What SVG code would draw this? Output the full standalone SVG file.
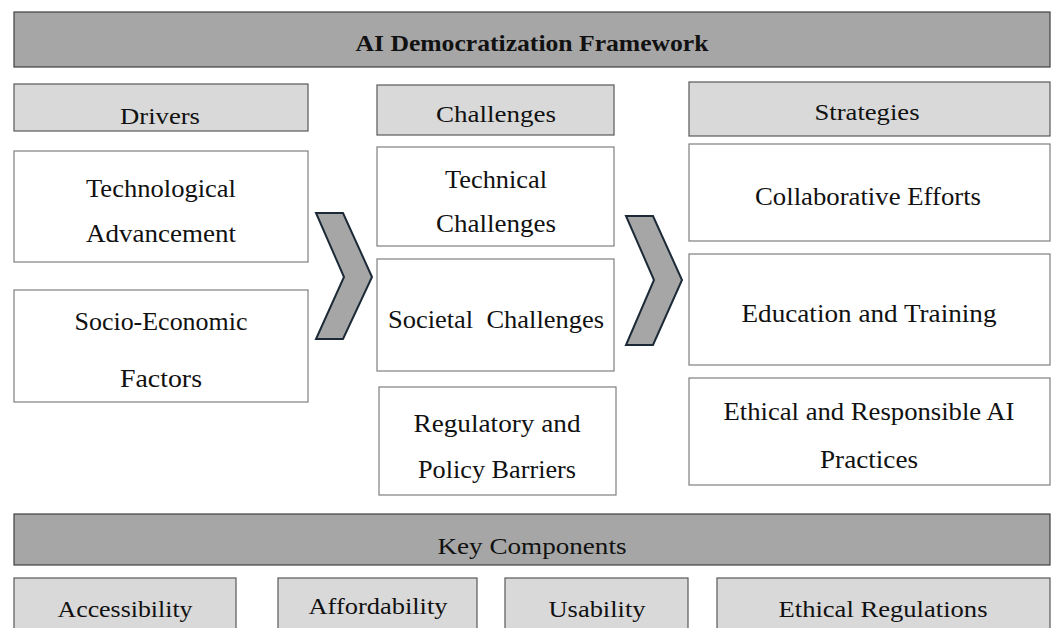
<svg xmlns="http://www.w3.org/2000/svg" width="1054" height="628" viewBox="0 0 1054 628">
  <style>
    .bar { fill: #a6a6a6; stroke: #404040; stroke-width: 1.2; }
    .head { fill: #d9d9d9; stroke: #595959; stroke-width: 1.2; }
    .box { fill: #ffffff; stroke: #7f7f7f; stroke-width: 1.2; }
    .chev { fill: #a6a6a6; stroke: #1c2a38; stroke-width: 2; stroke-linejoin: miter; }
    text { font-family: "Liberation Serif", "DejaVu Serif", serif; fill: #111111; text-anchor: middle; }
    .t { font-size: 24px; font-weight: bold; }
    .h { font-size: 24px; }
    .b { font-size: 25px; }
  </style>
  <rect width="1054" height="628" fill="#ffffff"/>

  <g id="title">
    <rect class="bar" x="14" y="12" width="1036" height="55"/>
    <text class="t" x="532" y="51" textLength="353" lengthAdjust="spacingAndGlyphs">AI Democratization Framework</text>
  </g>

  <g id="drivers">
    <rect class="head" x="14" y="84" width="294" height="47"/>
    <text class="h" x="160" y="124" textLength="80" lengthAdjust="spacingAndGlyphs">Drivers</text>
  </g>
  <g id="challenges">
    <rect class="head" x="377" y="85" width="237" height="50"/>
    <text class="h" x="496" y="122" textLength="120" lengthAdjust="spacingAndGlyphs">Challenges</text>
  </g>
  <g id="strategies">
    <rect class="head" x="689" y="82" width="361" height="54"/>
    <text class="h" x="867" y="120" textLength="105" lengthAdjust="spacingAndGlyphs">Strategies</text>
  </g>

  <g id="tech-advancement">
    <rect class="box" x="14" y="151" width="294" height="111"/>
    <text class="b" x="161" y="197" textLength="150" lengthAdjust="spacingAndGlyphs">Technological</text>
    <text class="b" x="161" y="242" textLength="150" lengthAdjust="spacingAndGlyphs">Advancement</text>
  </g>
  <g id="socio-economic">
    <rect class="box" x="14" y="290" width="294" height="112"/>
    <text class="b" x="161" y="330" textLength="173" lengthAdjust="spacingAndGlyphs">Socio-Economic</text>
    <text class="b" x="161" y="387" textLength="82" lengthAdjust="spacingAndGlyphs">Factors</text>
  </g>

  <g id="technical-challenges">
    <rect class="box" x="377" y="147" width="237" height="99"/>
    <text class="b" x="496" y="188" textLength="102" lengthAdjust="spacingAndGlyphs">Technical</text>
    <text class="b" x="496" y="232" textLength="120" lengthAdjust="spacingAndGlyphs">Challenges</text>
  </g>
  <g id="societal-challenges">
    <rect class="box" x="377" y="259" width="237" height="112"/>
    <text class="b" x="496" y="328" textLength="216" lengthAdjust="spacingAndGlyphs" xml:space="preserve">Societal  Challenges</text>
  </g>
  <g id="regulatory-barriers">
    <rect class="box" x="379" y="387" width="237" height="108"/>
    <text class="b" x="497" y="432" textLength="167" lengthAdjust="spacingAndGlyphs">Regulatory and</text>
    <text class="b" x="497" y="478" textLength="158" lengthAdjust="spacingAndGlyphs">Policy Barriers</text>
  </g>

  <g id="collaborative-efforts">
    <rect class="box" x="689" y="144" width="361" height="97"/>
    <text class="b" x="868" y="205" textLength="226" lengthAdjust="spacingAndGlyphs">Collaborative Efforts</text>
  </g>
  <g id="education-training">
    <rect class="box" x="689" y="254" width="361" height="111"/>
    <text class="b" x="869" y="322" textLength="255" lengthAdjust="spacingAndGlyphs">Education and Training</text>
  </g>
  <g id="ethical-practices">
    <rect class="box" x="689" y="378" width="361" height="107"/>
    <text class="b" x="869" y="420" textLength="291" lengthAdjust="spacingAndGlyphs">Ethical and Responsible AI</text>
    <text class="b" x="869" y="468" textLength="98" lengthAdjust="spacingAndGlyphs">Practices</text>
  </g>

  <g id="connectors">
    <polygon class="chev" points="316,213 343,213 372,277 343,339 316,339 344,277"/>
    <polygon class="chev" points="626,216 653,216 682,280 653,345 626,345 654,280"/>
  </g>

  <g id="key-components">
    <rect class="bar" x="14" y="514" width="1036" height="51"/>
    <text class="h" x="532" y="554" textLength="189" lengthAdjust="spacingAndGlyphs">Key Components</text>
  </g>
  <g id="accessibility">
    <rect class="head" x="14" y="578" width="222" height="60"/>
    <text class="h" x="125" y="617" textLength="135" lengthAdjust="spacingAndGlyphs">Accessibility</text>
  </g>
  <g id="affordability">
    <rect class="head" x="278" y="578" width="199" height="60"/>
    <text class="h" x="378" y="614" textLength="139" lengthAdjust="spacingAndGlyphs">Affordability</text>
  </g>
  <g id="usability">
    <rect class="head" x="505" y="578" width="183" height="60"/>
    <text class="h" x="597" y="617" textLength="97" lengthAdjust="spacingAndGlyphs">Usability</text>
  </g>
  <g id="ethical-regulations">
    <rect class="head" x="717" y="578" width="333" height="60"/>
    <text class="h" x="883" y="617" textLength="209" lengthAdjust="spacingAndGlyphs">Ethical Regulations</text>
  </g>
</svg>
